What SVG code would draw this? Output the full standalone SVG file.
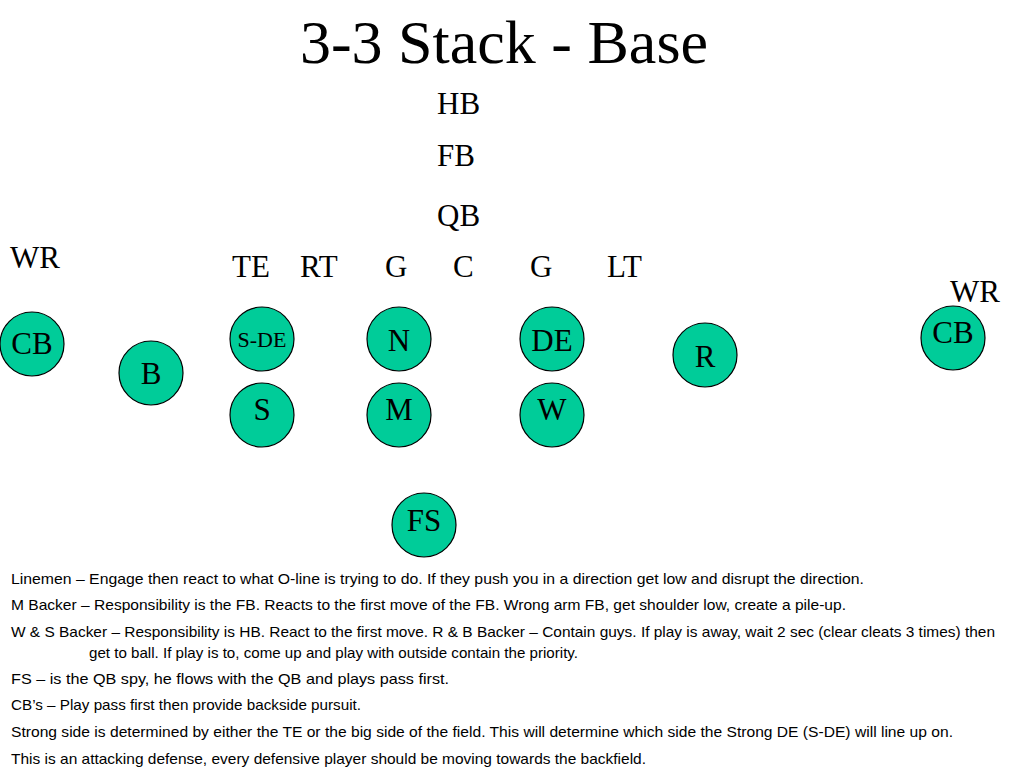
<svg xmlns="http://www.w3.org/2000/svg" width="1024" height="768" viewBox="0 0 1024 768">
<style>
.t{font-family:"Liberation Serif","Times New Roman",serif;fill:#000}
.big{font-size:62px}
.lbl{font-size:31px}
.nd{fill:#00CC99;stroke:#000;stroke-width:1.2}
.nt{font-family:"Liberation Serif","Times New Roman",serif;font-size:31px;text-anchor:middle;fill:#000}
.b{font-family:"Liberation Sans",Arial,sans-serif;font-size:15px;fill:#000}
</style>
<rect width="1024" height="768" fill="#fff"/>
<text class="t big" x="504" y="63" text-anchor="middle">3-3 Stack - Base</text>
<g id="offense">
<text class="t lbl" x="437" y="114">HB</text>
<text class="t lbl" x="437" y="166">FB</text>
<text class="t lbl" x="437" y="226">QB</text>
<text class="t lbl" x="10" y="268">WR</text>
<text class="t lbl" x="232" y="277">TE</text>
<text class="t lbl" x="300" y="277">RT</text>
<text class="t lbl" x="385" y="277">G</text>
<text class="t lbl" x="453" y="277">C</text>
<text class="t lbl" x="530" y="277">G</text>
<text class="t lbl" x="607" y="277">LT</text>
<text class="t lbl" x="950" y="302">WR</text>
</g>
<g id="connectors"></g>
<g id="cb-left"><circle class="nd" cx="32" cy="344" r="32"/><text class="nt" x="32" y="354">CB</text></g>
<g id="b"><circle class="nd" cx="151" cy="373" r="32"/><text class="nt" x="151" y="384">B</text></g>
<g id="sde"><circle class="nd" cx="262" cy="339" r="32"/><text class="nt" x="262" y="347" style="font-size:22px">S-DE</text></g>
<g id="s"><circle class="nd" cx="262" cy="415" r="32"/><text class="nt" x="262" y="420">S</text></g>
<g id="n"><circle class="nd" cx="399" cy="339" r="32"/><text class="nt" x="399" y="351">N</text></g>
<g id="m"><circle class="nd" cx="399" cy="415" r="32"/><text class="nt" x="399" y="420">M</text></g>
<g id="de"><circle class="nd" cx="552" cy="339" r="32"/><text class="nt" x="552" y="351">DE</text></g>
<g id="w"><circle class="nd" cx="552" cy="415" r="32"/><text class="nt" x="552" y="420">W</text></g>
<g id="r"><circle class="nd" cx="705" cy="355" r="32"/><text class="nt" x="705" y="367">R</text></g>
<g id="cb-right"><circle class="nd" cx="953" cy="338" r="32"/><text class="nt" x="953" y="343">CB</text></g>
<g id="fs"><circle class="nd" cx="424" cy="525" r="32"/><text class="nt" x="424" y="531">FS</text></g>
<g id="notes">
<text class="b" x="11" y="584" textLength="853" lengthAdjust="spacingAndGlyphs">Linemen – Engage then react to what O-line is trying to do.  If they push you in a direction get low and disrupt the direction.</text>
<text class="b" x="11" y="610" textLength="835" lengthAdjust="spacingAndGlyphs">M Backer – Responsibility is the FB.  Reacts to the first move of the FB.  Wrong arm FB, get shoulder low, create a pile-up.</text>
<text class="b" x="11" y="637" textLength="984" lengthAdjust="spacingAndGlyphs">W &amp; S Backer – Responsibility is HB.  React to the first move.  R &amp; B Backer – Contain guys.  If play is away, wait 2 sec (clear cleats 3 times) then</text>
<text class="b" x="89" y="658" textLength="489" lengthAdjust="spacingAndGlyphs">get to ball.  If play is to, come up and play with outside contain the priority.</text>
<text class="b" x="11" y="684" textLength="438" lengthAdjust="spacingAndGlyphs">FS – is the QB spy, he flows with the QB and plays pass first.</text>
<text class="b" x="11" y="710" textLength="350" lengthAdjust="spacingAndGlyphs">CB’s – Play pass first then provide backside pursuit.</text>
<text class="b" x="11" y="737" textLength="942" lengthAdjust="spacingAndGlyphs">Strong side is determined by either the TE or the big side of the field.  This will determine which side the Strong DE (S-DE) will line up on.</text>
<text class="b" x="11" y="764" textLength="635" lengthAdjust="spacingAndGlyphs">This is an attacking defense, every defensive player should be moving towards the backfield.</text>
</g>
</svg>
